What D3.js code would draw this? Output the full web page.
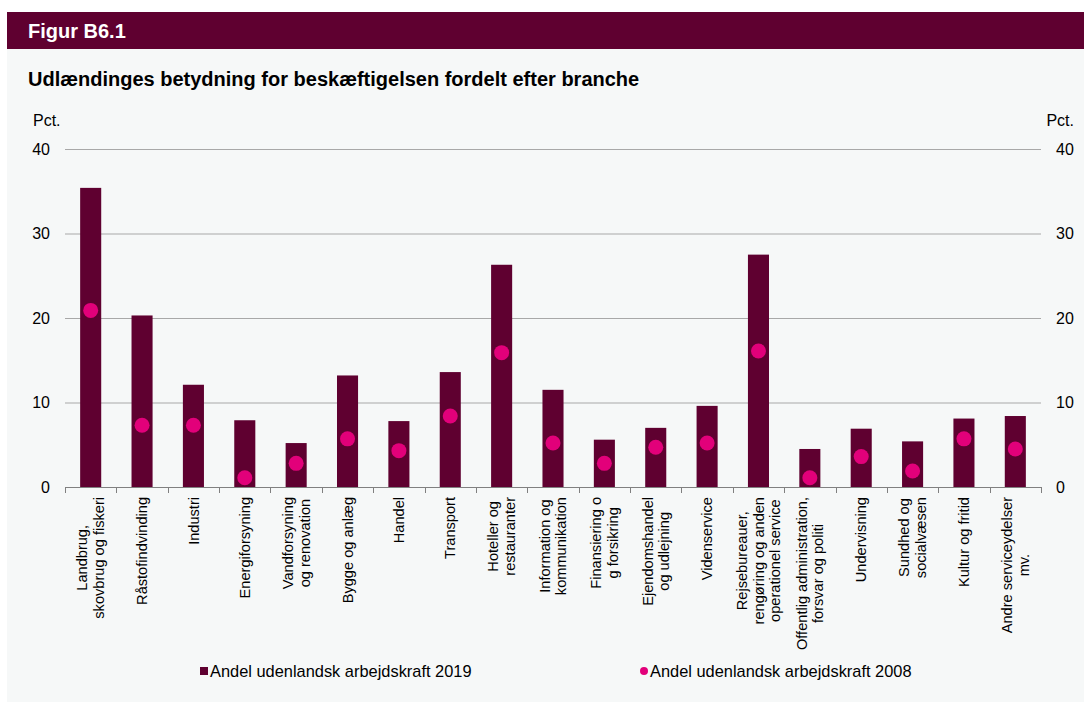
<!DOCTYPE html>
<html>
<head>
<meta charset="utf-8">
<script src="https://cdn.jsdelivr.net/npm/d3@7"></script>
<style>
  html, body { margin: 0; padding: 0; background: #ffffff; }
  svg { display: block; font-family: "Liberation Sans", Arial, sans-serif; }
</style>
</head>
<body>
<svg id="chart" width="1084" height="702"></svg>
<script>
// Branches (line breaks in the tick labels marked with \n)
const categories = [
  "Landbrug,\nskovbrug og fiskeri",
  "Råstofindvinding",
  "Industri",
  "Energiforsyning",
  "Vandforsyning\nog renovation",
  "Bygge og anlæg",
  "Handel",
  "Transport",
  "Hoteller og\nrestauranter",
  "Information og\nkommunikation",
  "Finansiering o\ng forsikring",
  "Ejendomshandel\nog udlejning",
  "Videnservice",
  "Rejsebureauer,\nrengøring og anden\noperationel service",
  "Offentlig administration,\nforsvar og politi",
  "Undervisning",
  "Sundhed og\nsocialvæsen",
  "Kultur og fritid",
  "Andre serviceydelser\nmv."
];

// Share of foreign labour, pct.
const share2019 = [35.4, 20.3, 12.1, 7.9, 5.2, 13.2, 7.8, 13.6, 26.3, 11.5, 5.6, 7.0, 9.6, 27.5, 4.5, 6.9, 5.4, 8.1, 8.4];
const share2008 = [20.9, 7.3, 7.3, 1.1, 2.8, 5.7, 4.3, 8.4, 15.9, 5.2, 2.8, 4.7, 5.2, 16.1, 1.1, 3.6, 1.9, 5.7, 4.5];

const yTicks = [0, 10, 20, 30, 40];
const seriesNames = ["Andel udenlandsk arbejdskraft 2019", "Andel udenlandsk arbejdskraft 2008"];

const barColor = "#5f0030";
const dotColor = "#e2007a";

const svg = d3.select("#chart");

// Header band and panel
svg.append("rect").attr("x", 7).attr("y", 12).attr("width", 1077).attr("height", 37).attr("fill", barColor);
svg.append("rect").attr("x", 7).attr("y", 49).attr("width", 1077).attr("height", 653).attr("fill", "#f6f8f8");

svg.append("text").attr("x", 28).attr("y", 38)
  .attr("font-size", 20).attr("font-weight", "bold").attr("fill", "#ffffff")
  .text("Figur B6.1");

svg.append("text").attr("x", 28).attr("y", 86)
  .attr("font-size", 20).attr("font-weight", "bold").attr("fill", "#000000")
  .text("Udlændinges betydning for beskæftigelsen fordelt efter branche");

// Scales
const x = d3.scaleBand().domain(d3.range(categories.length)).range([65, 1041]).padding(0);
const y = d3.scaleLinear().domain([0, 40]).range([487, 149]);
const barW = x.bandwidth() * 0.41;

// Unit labels
svg.append("text").attr("x", 33).attr("y", 126).attr("font-size", 16).attr("fill", "#000").text("Pct.");
svg.append("text").attr("x", 1074).attr("y", 126).attr("font-size", 16).attr("fill", "#000")
  .attr("text-anchor", "end").text("Pct.");

// Gridlines
svg.append("g").selectAll("line").data(yTicks.filter(d => d > 0)).join("line")
  .attr("x1", 65).attr("x2", 1041)
  .attr("y1", d => y(d) + 0.5).attr("y2", d => y(d) + 0.5)
  .attr("stroke", "#a8a8a8").attr("stroke-width", 1);

// Left and right value axes
const leftAxis = svg.append("g").attr("transform", "translate(50,0)")
  .call(d3.axisLeft(y).tickValues(yTicks).tickSize(0).tickPadding(0));
const rightAxis = svg.append("g").attr("transform", "translate(1056,0)")
  .call(d3.axisRight(y).tickValues(yTicks).tickSize(0).tickPadding(0));
[leftAxis, rightAxis].forEach(g => {
  g.select(".domain").remove();
  g.selectAll("text").attr("font-size", 16).attr("fill", "#000")
    .attr("font-family", "'Liberation Sans', Arial, sans-serif");
});

// Bars (2019)
svg.append("g").selectAll("rect").data(share2019).join("rect")
  .attr("x", (d, i) => x(i) + (x.bandwidth() - barW) / 2)
  .attr("y", d => y(d))
  .attr("width", barW)
  .attr("height", d => y(0) - y(d))
  .attr("fill", barColor);

// Category axis with ticks at the band boundaries
const bounds = d3.range(categories.length + 1).map(i => i < categories.length ? x(i) : x.range()[1]);
svg.append("line").attr("x1", 65).attr("x2", 1041).attr("y1", y(0) + 0.5).attr("y2", y(0) + 0.5)
  .attr("stroke", "#808080").attr("stroke-width", 1);
svg.append("g").selectAll("line").data(bounds).join("line")
  .attr("x1", d => Math.round(d) + 0.5).attr("x2", d => Math.round(d) + 0.5)
  .attr("y1", y(0)).attr("y2", y(0) + 6)
  .attr("stroke", "#808080").attr("stroke-width", 1);

// Dots (2008)
svg.append("g").selectAll("circle").data(share2008).join("circle")
  .attr("cx", (d, i) => x(i) + x.bandwidth() / 2)
  .attr("cy", d => y(d))
  .attr("r", 7.5)
  .attr("fill", dotColor);

// Rotated, multi-line category labels
const lineH = 16.6;
const labelTop = 497;
const labelG = svg.append("g");
categories.forEach((c, i) => {
  const lines = c.split("\n");
  const cx = x(i) + x.bandwidth() / 2;
  const g = labelG.append("g").attr("transform", `translate(${cx},${labelTop}) rotate(-90)`);
  const texts = lines.map((t, k) => g.append("text")
    .attr("font-size", 14.6).attr("fill", "#000")
    .attr("text-anchor", "middle")
    .attr("y", (k - (lines.length - 1) / 2) * lineH)
    .attr("dy", "0.35em")
    .text(t));
  const maxLen = d3.max(texts, t => t.node().getComputedTextLength());
  texts.forEach(t => t.attr("x", -maxLen / 2));
});

// Legend
const leg = svg.append("g");
leg.append("rect").attr("x", 200).attr("y", 667).attr("width", 8).attr("height", 8).attr("fill", barColor);
leg.append("text").attr("x", 210).attr("y", 677).attr("font-size", 16.4).attr("fill", "#000").text(seriesNames[0]);
leg.append("circle").attr("cx", 644).attr("cy", 671).attr("r", 4).attr("fill", dotColor);
leg.append("text").attr("x", 650).attr("y", 677).attr("font-size", 16.4).attr("fill", "#000").text(seriesNames[1]);
</script>
</body>
</html>
